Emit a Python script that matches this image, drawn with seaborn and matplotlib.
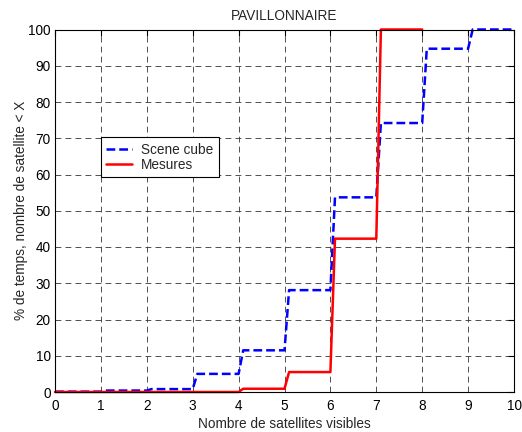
import numpy as np
import pandas as pd
import matplotlib
matplotlib.use("Agg")
import matplotlib.pyplot as plt
import seaborn as sns

# Data: cumulative % per satellite count interval [k, k+1)
sat_counts = [0, 1, 2, 3, 4, 5, 6, 7, 8, 9]
scene_cube = [0.1, 0.4, 0.8, 5.0, 11.5, 28.1, 53.7, 74.2, 94.7, 100.0]
mesures_counts = [0, 1, 2, 3, 4, 5, 6, 7]
mesures = [0.0, 0.0, 0.0, 0.0, 0.9, 5.5, 42.3, 100.0]
x_ticks = list(range(0, 11))
y_ticks = list(range(0, 101, 10))
ramp = 0.1


def step_points(counts, vals, name):
    xs, ys = [], []
    for i, (k, v) in enumerate(zip(counts, vals)):
        if i == 0:
            xs.append(k)
        else:
            xs.append(k + ramp)
        ys.append(v)
        xs.append(k + 1)
        ys.append(v)
    return pd.DataFrame({"x": xs, "y": ys, "serie": name})


df_b = step_points(sat_counts, scene_cube, "Scene cube")
df_r = step_points(mesures_counts, mesures, "Mesures")

sns.set_style("white")
plt.rcParams["font.family"] = ["Liberation Sans", "DejaVu Sans"]
FS = 9.8

fig = plt.figure(figsize=(5.22, 4.32), dpi=100)
ax = fig.add_axes([55 / 522, 1 - 392 / 432, 459 / 522, 362.5 / 432])

sns.lineplot(data=df_b, x="x", y="y", sort=False, estimator=None, ax=ax,
             color="#0000ff", linewidth=1.8, label="Scene cube")
ax.lines[-1].set_dashes([3.5, 1.6])
sns.lineplot(data=df_r, x="x", y="y", sort=False, estimator=None, ax=ax,
             color="#ff0000", linewidth=1.8, label="Mesures")
for ln in ax.lines:
    ln.set_clip_on(False)

ax.set_xlim(0, 10)
ax.set_ylim(0, 100)
ax.set_xticks(x_ticks)
ax.set_yticks(y_ticks)
ax.tick_params(direction="in", length=4, width=0.8, labelsize=FS,
               top=True, right=True, colors="black")
ax.tick_params(axis="x", pad=5)
ax.tick_params(axis="y", pad=3)
for s in ax.spines.values():
    s.set_visible(True)
    s.set_color("black")
    s.set_linewidth(0.8)
ax.grid(True, color="#333333", linestyle=(0, (7, 5)), linewidth=0.6)
ax.set_axisbelow(True)

ax.set_xlabel("Nombre de satellites visibles", fontsize=FS, labelpad=3)
ax.set_ylabel("% de temps, nombre de satellite < X", fontsize=FS, labelpad=0)
ax.set_title("PAVILLONNAIRE", fontsize=FS, pad=7)

leg = ax.legend(loc="upper left", bbox_to_anchor=(0.1, 0.703), fontsize=FS,
                frameon=True, fancybox=False, framealpha=1, edgecolor="black",
                borderpad=0.4, handlelength=1.9, labelspacing=0.1,
                borderaxespad=0, handletextpad=0.65)
leg.get_frame().set_linewidth(0.8)

fig.savefig("out.png", dpi=100)
